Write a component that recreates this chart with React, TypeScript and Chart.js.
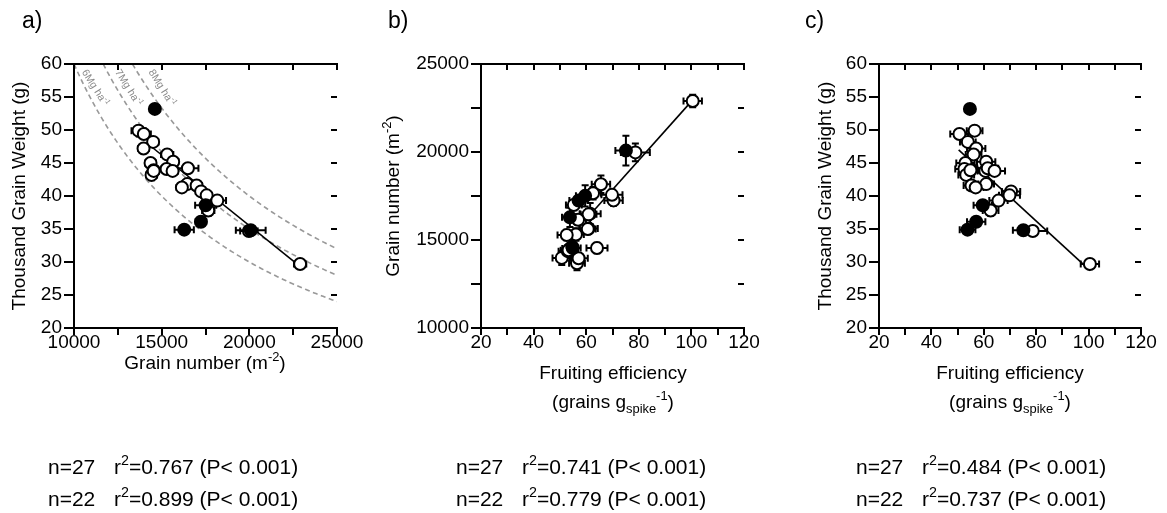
import React, { useEffect, useRef } from "react";
import { Chart, registerables } from "chart.js";

Chart.register(...registerables);

// ---------- data ----------
// filled symbols (5 genotypes)
const filledGN = [14611, 17509, 17240, 16286, 20080];
const filledTGW = [53.2, 38.6, 36.1, 34.9, 34.8];
const filledFE = [54.7, 59.6, 57.1, 53.8, 75.1];
const filledGNErr = [250, 600, 300, 550, 850];
const filledTGWErr = [0.4, 0.5, 0.6, 0.4, 0.5];
const filledFEErr = [1.5, 3.5, 3.5, 3.0, 4.0];

// open symbols (22 genotypes)
const openGN = [13680, 13983, 14514, 13966, 15314, 15657, 14366, 15280, 15623, 16497, 14423, 14545, 16457, 16994, 17250, 17566, 18171, 17657, 19977, 22897, 14545, 16153];
const openTGW = [49.9, 49.4, 48.2, 47.2, 46.3, 45.2, 45.0, 44.1, 43.8, 44.2, 43.2, 43.9, 41.8, 41.6, 40.7, 40.1, 39.3, 37.8, 34.7, 29.7, 43.8, 41.3];
const openFE = [56.5, 50.7, 53.9, 57.1, 56.1, 60.9, 53.0, 52.6, 60.6, 61.5, 53.3, 54.9, 60.9, 55.3, 70.4, 69.8, 65.6, 62.6, 78.7, 100.5, 64.1, 56.9];
const openGNErr = [400, 400, 300, 300, 350, 300, 300, 300, 300, 600, 300, 300, 300, 300, 300, 300, 500, 350, 500, 350, 300, 300];
const openTGWErr = [0.4, 0.4, 0.4, 0.4, 0.5, 0.4, 0.4, 0.4, 0.4, 0.4, 0.8, 0.4, 0.4, 0.4, 0.4, 0.4, 0.5, 0.8, 0.4, 0.4, 0.4, 0.4];
const openFEErr = [3, 3.5, 3, 3.5, 3, 3.5, 3.5, 3.5, 3, 4, 3, 3, 3, 3, 3.5, 4, 3.5, 3, 5.5, 3.5, 4, 3];

// regression lines (end points)
const regA_GN = [14400, 22850];
const regA_TGW = [47.5, 29.4];
const regB_FE = [62.5, 100];
const regB_GN = [16600, 22875];
const regC_FE = [50.4, 100.6];
const regC_TGW = [47.0, 28.7];

// yield isolines (Mg/ha) in panel a
const yieldLevels = [6, 7, 8];
const isoLabels = ["6Mg ha", "7Mg ha", "8Mg ha"];
const isoLabelGN = [10611, 12514, 14423];
const isoLabelTGW = [59.1, 59.1, 59.1];

// axis tick settings
const gnTicks = { min: 10000, max: 25000, step: 2500, major: 5000 };
const tgwTicks = { min: 20, max: 60, step: 5, major: 5 };
const feTicks = { min: 20, max: 120, step: 10, major: 20 };

// statistics
const statsA = [["27", "0.767"], ["22", "0.899"]];
const statsB = [["27", "0.741"], ["22", "0.779"]];
const statsC = [["27", "0.484"], ["22", "0.737"]];

// ---------- helpers ----------
const FONT = '"Liberation Sans", Arial, Helvetica, sans-serif';

type Seg = { t: string; v?: "sup" | "sub" };
interface TextItem {
  x: number;
  y: number;
  segs: Seg[];
  size: number;
  align?: "left" | "center";
  rot?: number;
  color?: string;
  data?: boolean;
  sx?: number;
}

function drawRich(ctx: CanvasRenderingContext2D, it: TextItem, x0: number, y0: number) {
  const small = it.size * 0.68;
  let w = 0;
  for (const s of it.segs) {
    ctx.font = `${s.v ? small : it.size}px ${FONT}`;
    w += ctx.measureText(s.t).width;
  }
  ctx.save();
  ctx.translate(x0, y0);
  if (it.rot) ctx.rotate(it.rot);
  if (it.sx) ctx.scale(it.sx, 1);
  ctx.fillStyle = it.color || "#000";
  ctx.textBaseline = "alphabetic";
  ctx.textAlign = "left";
  let x = it.align === "left" ? 0 : -w / 2;
  const base = it.size * 0.36;
  for (const s of it.segs) {
    const sz = s.v ? small : it.size;
    ctx.font = `${sz}px ${FONT}`;
    const dy = s.v === "sup" ? -it.size * 0.42 : s.v === "sub" ? it.size * 0.25 : 0;
    ctx.fillText(s.t, x, base + dy);
    x += ctx.measureText(s.t).width;
  }
  ctx.restore();
}

const decorPlugin = {
  id: "decor",
  beforeDatasetsDraw(chart: any) {
    const o = chart.options.plugins.decor;
    const ctx = chart.ctx as CanvasRenderingContext2D;
    const xs = chart.scales.x;
    const ys = chart.scales.y;
    ctx.save();
    ctx.beginPath();
    ctx.rect(chart.chartArea.left, chart.chartArea.top, chart.chartArea.right - chart.chartArea.left, chart.chartArea.bottom - chart.chartArea.top);
    ctx.clip();
    ctx.strokeStyle = "#000";
    ctx.lineWidth = 2;
    ctx.setLineDash([]);
    const cap = 3.5;
    for (const e of o.errors) {
      for (let i = 0; i < e.x.length; i++) {
        const px = xs.getPixelForValue(e.x[i]);
        const py = ys.getPixelForValue(e.y[i]);
        if (e.xe[i] > 0) {
          const a = xs.getPixelForValue(e.x[i] - e.xe[i]);
          const b = xs.getPixelForValue(e.x[i] + e.xe[i]);
          ctx.beginPath();
          ctx.moveTo(a, py); ctx.lineTo(b, py);
          ctx.moveTo(a, py - cap); ctx.lineTo(a, py + cap);
          ctx.moveTo(b, py - cap); ctx.lineTo(b, py + cap);
          ctx.stroke();
        }
        if (e.ye[i] > 0) {
          const a = ys.getPixelForValue(e.y[i] - e.ye[i]);
          const b = ys.getPixelForValue(e.y[i] + e.ye[i]);
          ctx.beginPath();
          ctx.moveTo(px, a); ctx.lineTo(px, b);
          ctx.moveTo(px - cap, a); ctx.lineTo(px + cap, a);
          ctx.moveTo(px - cap, b); ctx.lineTo(px + cap, b);
          ctx.stroke();
        }
      }
    }
    ctx.restore();
  },
  afterDraw(chart: any) {
    const o = chart.options.plugins.decor;
    const ctx = chart.ctx as CanvasRenderingContext2D;
    const { left, right, top } = chart.chartArea;
    const xs = chart.scales.x;
    const ys = chart.scales.y;
    ctx.save();
    ctx.setLineDash([]);
    ctx.globalAlpha = 1;
    ctx.fillStyle = "#000";
    // top frame line
    ctx.fillRect(Math.round(left) - 1, Math.round(top) - 1, Math.round(right - left) + 2, 2);
    // inward ticks on top
    for (const t of xs.ticks) {
      const px = Math.round(xs.getPixelForValue(t.value));
      ctx.fillRect(px - 1, Math.round(top), 2, 6);
    }
    // inward ticks on the right (no line)
    for (const t of ys.ticks) {
      const py = Math.round(ys.getPixelForValue(t.value));
      ctx.fillRect(Math.round(right) - 6, py - 1, 6, 2);
    }
    ctx.restore();
    for (const it of o.texts as TextItem[]) {
      if (it.data) drawRich(ctx, it, xs.getPixelForValue(it.x), ys.getPixelForValue(it.y));
      else drawRich(ctx, it, it.x - o.offset, it.y);
    }
  },
};

function axis(t: { min: number; max: number; step: number; major: number }, isX: boolean) {
  return {
    type: "linear",
    position: isX ? "bottom" : "left",
    min: t.min,
    max: t.max,
    afterFit: (s: any) => {
      if (isX) s.height = 40;
      else s.width = 70;
      s.paddingLeft = 0;
      s.paddingRight = 0;
      s.paddingTop = 0;
      s.paddingBottom = 0;
    },
    ticks: {
      stepSize: t.step,
      autoSkip: false,
      maxRotation: 0,
      minRotation: 0,
      color: "#000",
      padding: isX ? -4 : 2,
      font: { family: FONT, size: 19 },
      callback: (v: number) => (Math.abs(v % t.major) < 1e-9 ? String(v) : ""),
    },
    grid: {
      drawOnChartArea: false,
      drawTicks: true,
      tickLength: isX ? 7 : 10,
      color: "#000",
      lineWidth: 2,
    },
    border: { display: true, color: "#000", width: 2 },
  };
}

function pts(xs: number[], ys: number[]) {
  return xs.map((x, i) => ({ x, y: ys[i] }));
}

function pointSets(xF: number[], yF: number[], xO: number[], yO: number[]) {
  return [
    {
      label: "filled",
      data: pts(xF, yF),
      pointRadius: 6,
      pointBorderWidth: 2,
      pointBackgroundColor: "#000",
      pointBorderColor: "#000",
      showLine: false,
      order: 0,
    },
    {
      label: "open",
      data: pts(xO, yO),
      pointRadius: 6,
      pointBorderWidth: 2,
      pointBackgroundColor: "#fff",
      pointBorderColor: "#000",
      showLine: false,
      order: 1,
    },
  ];
}

function regSet(xs: number[], ys: number[]) {
  return {
    label: "regression",
    data: pts(xs, ys),
    showLine: true,
    pointRadius: 0,
    borderColor: "#000",
    borderWidth: 1.6,
    order: 2,
  };
}

function isoSets() {
  return yieldLevels.map((yl, k) => {
    const data: { x: number; y: number }[] = [];
    const start = Math.max(gnTicks.min, (yl * 100000) / tgwTicks.max);
    for (let gn = start; gn <= gnTicks.max + 1; gn += 100) {
      data.push({ x: gn, y: (yl * 100000) / gn });
    }
    return {
      label: `iso${k}`,
      data,
      showLine: true,
      pointRadius: 0,
      borderColor: "#999999",
      borderWidth: 1.6,
      borderDash: [5, 3.5],
      order: 5,
    };
  });
}

const STAT_SIZE = 21;

function stat(x: number, y: number, n: string, r2: string): TextItem[] {
  return [
    { x, y, align: "left", size: STAT_SIZE, segs: [{ t: `n=${n}` }] },
    { x: x + 66, y, align: "left", size: STAT_SIZE, segs: [{ t: "r" }, { t: "2", v: "sup" }, { t: `=${r2} (P< 0.001)` }] },
  ];
}

interface Panel {
  left: number;
  width: number;
  padding: { left: number; right: number; top: number; bottom: number };
  xT: any;
  yT: any;
  datasets: any[];
  errors: any[];
  texts: TextItem[];
}

const H = 513;

const panels: Panel[] = [
  {
    left: 0,
    width: 380,
    padding: { left: 4, right: 43, top: 64, bottom: 145 },
    xT: gnTicks,
    yT: tgwTicks,
    datasets: [...pointSets(filledGN, filledTGW, openGN, openTGW), regSet(regA_GN, regA_TGW), ...isoSets()],
    errors: [
      { x: filledGN, y: filledTGW, xe: filledGNErr, ye: filledTGWErr },
      { x: openGN, y: openTGW, xe: openGNErr, ye: openTGWErr },
    ],
    texts: [
      { x: 22, y: 20, align: "left", size: 23, segs: [{ t: "a)" }] },
      { x: 18, y: 196, rot: -Math.PI / 2, size: 19, segs: [{ t: "Thousand Grain Weight (g)" }] },
      { x: 205, y: 362, size: 19, segs: [{ t: "Grain number (m" }, { t: "-2", v: "sup" }, { t: ")" }] },
      ...stat(48, 466, statsA[0][0], statsA[0][1]),
      ...stat(48, 498, statsA[1][0], statsA[1][1]),
      ...isoLabels.map((t, k) => ({
        x: isoLabelGN[k],
        y: isoLabelTGW[k],
        data: true,
        rot: (58 * Math.PI) / 180,
        align: "left" as const,
        size: 10.5,
        color: "#8a8a8a",
        segs: [{ t }, { t: "-1", v: "sup" as const }],
      })),
    ],
  },
  {
    left: 380,
    width: 400,
    padding: { left: 31, right: 36, top: 64, bottom: 145 },
    xT: feTicks,
    yT: gnTicks,
    datasets: [...pointSets(filledFE, filledGN, openFE, openGN), regSet(regB_FE, regB_GN)],
    errors: [
      { x: filledFE, y: filledGN, xe: filledFEErr, ye: filledGNErr },
      { x: openFE, y: openGN, xe: openFEErr, ye: openGNErr },
    ],
    texts: [
      { x: 388, y: 20, align: "left", size: 23, segs: [{ t: "b)" }] },
      { x: 392, y: 196, rot: -Math.PI / 2, size: 19, segs: [{ t: "Grain number (m" }, { t: "-2", v: "sup" }, { t: ")" }] },
      { x: 613, y: 372, size: 19, segs: [{ t: "Fruiting efficiency" }] },
      { x: 613, y: 401, size: 19, segs: [{ t: "(grains g" }, { t: "spike", v: "sub" }, { t: "-1", v: "sup" }, { t: ")" }] },
      ...stat(456, 466, statsB[0][0], statsB[0][1]),
      ...stat(456, 498, statsB[1][0], statsB[1][1]),
    ],
  },
  {
    left: 780,
    width: 387,
    padding: { left: 29, right: 26, top: 64, bottom: 145 },
    xT: feTicks,
    yT: tgwTicks,
    datasets: [...pointSets(filledFE, filledTGW, openFE, openTGW), regSet(regC_FE, regC_TGW)],
    errors: [
      { x: filledFE, y: filledTGW, xe: filledFEErr, ye: filledTGWErr },
      { x: openFE, y: openTGW, xe: openFEErr, ye: openTGWErr },
    ],
    texts: [
      { x: 805, y: 20, align: "left", size: 23, segs: [{ t: "c)" }] },
      { x: 824, y: 196, rot: -Math.PI / 2, size: 19, segs: [{ t: "Thousand Grain Weight (g)" }] },
      { x: 1010, y: 372, size: 19, segs: [{ t: "Fruiting efficiency" }] },
      { x: 1010, y: 401, size: 19, segs: [{ t: "(grains g" }, { t: "spike", v: "sub" }, { t: "-1", v: "sup" }, { t: ")" }] },
      ...stat(856, 466, statsC[0][0], statsC[0][1]),
      ...stat(856, 498, statsC[1][0], statsC[1][1]),
    ],
  },
];

function PanelChart({ p }: { p: Panel }) {
  const ref = useRef<HTMLCanvasElement | null>(null);
  useEffect(() => {
    if (!ref.current) return;
    const chart = new Chart(ref.current, {
      type: "scatter",
      data: { datasets: p.datasets },
      options: {
        responsive: false,
        animation: false,
        devicePixelRatio: 1,
        layout: { padding: p.padding },
        scales: { x: axis(p.xT, true), y: axis(p.yT, false) } as any,
        plugins: {
          legend: { display: false },
          tooltip: { enabled: false },
          decor: { texts: p.texts, errors: p.errors, offset: p.left },
        } as any,
        elements: { line: { tension: 0 } },
      },
      plugins: [decorPlugin],
    } as any);
    return () => chart.destroy();
  }, [p]);
  return (
    <canvas
      ref={ref}
      width={p.width}
      height={H}
      style={{ position: "absolute", left: p.left, top: 0, width: p.width, height: H }}
    />
  );
}

export default function App() {
  return (
    <div style={{ position: "absolute", left: 0, top: 0, width: 1167, height: H, background: "#fff" }}>
      {panels.map((p, i) => (
        <PanelChart key={i} p={p} />
      ))}
    </div>
  );
}
